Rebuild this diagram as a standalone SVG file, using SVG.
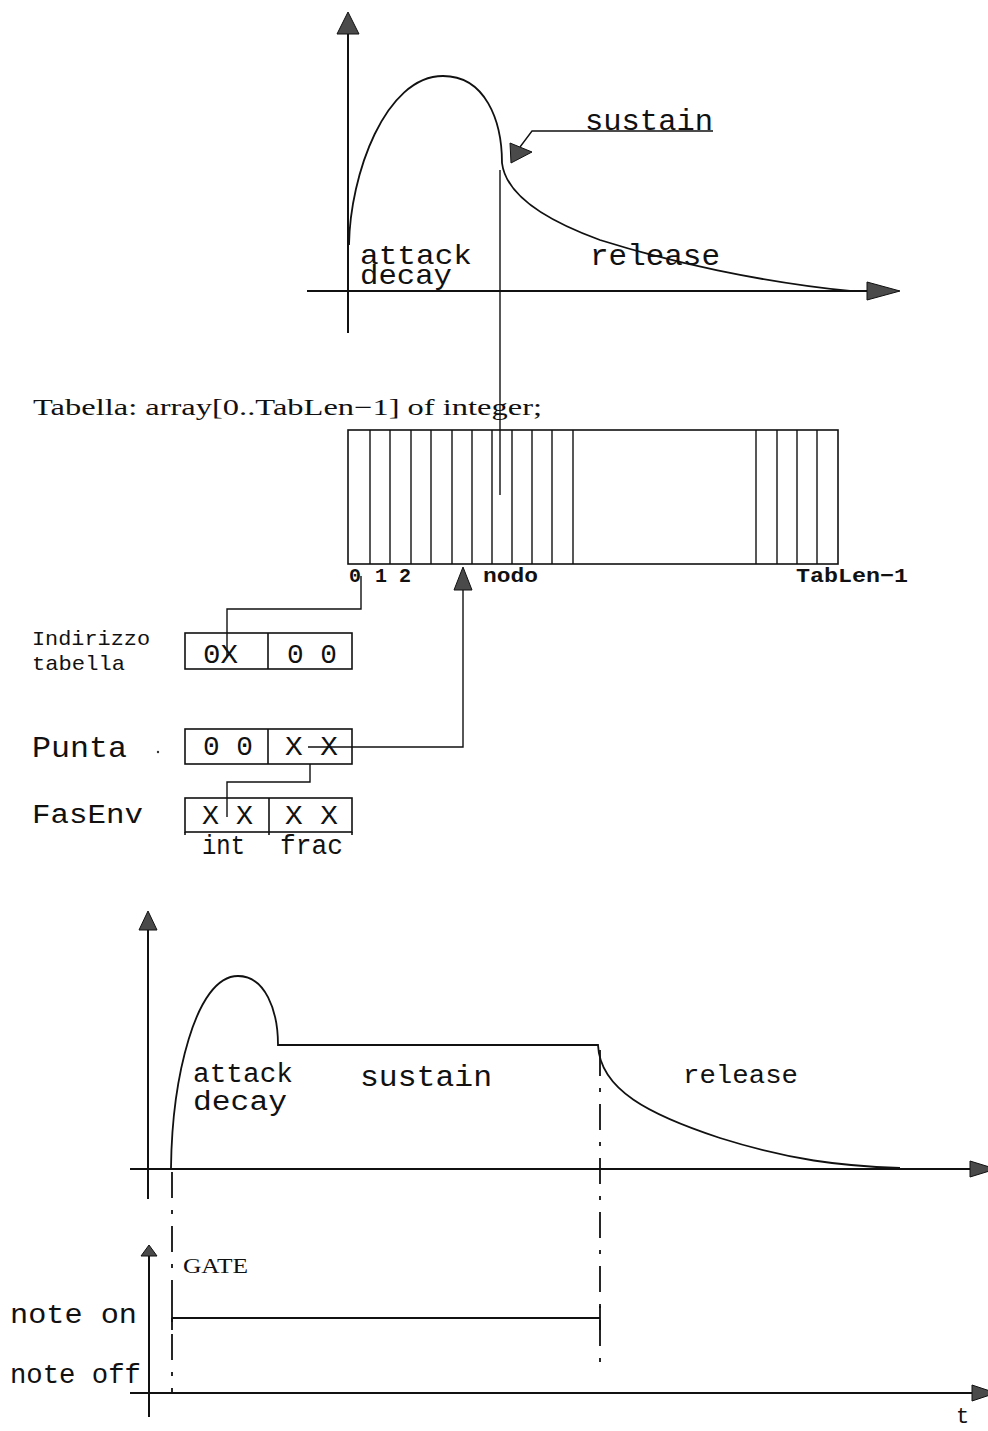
<svg xmlns="http://www.w3.org/2000/svg" width="988" height="1431" viewBox="0 0 988 1431">
<style>
  .ln{stroke:#111;stroke-width:1.8;fill:none}
  .thin{stroke:#111;stroke-width:1.4;fill:none}
  .ax{stroke:#111;stroke-width:2;fill:none}
  .ah{fill:#4a4a4a;stroke:#111;stroke-width:1}
  .dash{stroke:#111;stroke-width:1.8;fill:none;stroke-dasharray:26 12 4 12}
  .box{stroke:#111;stroke-width:1.6;fill:none}
  .m{font-family:"Liberation Mono","DejaVu Sans Mono",monospace;fill:#111}
  .mb{font-family:"Liberation Mono","DejaVu Sans Mono",monospace;font-weight:bold;fill:#111;font-size:20px}
  .s{font-family:"Liberation Serif","DejaVu Serif",serif;fill:#111}
</style>
<rect width="988" height="1431" fill="#fff"/>

<g id="top-graph">
  <line class="ax" x1="348" y1="30" x2="348" y2="333"/>
  <polygon class="ah" points="348,12 337,34 359,34"/>
  <line class="ax" x1="307" y1="291" x2="870" y2="291"/>
  <polygon class="ah" points="900,291 867,282 867,300"/>
  <path class="ln" d="M349,245 C350,175 385,76 443,76 C485,76 502,120 502,163 C506,195 545,220 600,240 C670,262 760,282 850,291"/>
  <text class="m" x="360" y="264" font-size="28" textLength="112" lengthAdjust="spacingAndGlyphs">attack</text>
  <text class="m" x="360" y="284" font-size="28" textLength="92" lengthAdjust="spacingAndGlyphs">decay</text>
  <text class="m" x="590" y="265" font-size="29" textLength="130" lengthAdjust="spacingAndGlyphs">release</text>
</g>

<g id="sustain-label">
  <text class="m" x="585" y="130" font-size="29" textLength="128" lengthAdjust="spacingAndGlyphs">sustain</text>
  <polyline class="thin" points="713,131 532,131 520,147"/>
  <polygon class="ah" points="510,143 532,152 511,163"/>
</g>

<g id="table">
  <text class="s" x="33" y="415" font-size="23" textLength="509" lengthAdjust="spacingAndGlyphs">Tabella: array[0..TabLen−1] of integer;</text>
  <rect class="box" x="348" y="430" width="490" height="134"/>
  <g class="thin">
    <line x1="370" y1="430" x2="370" y2="564"/>
    <line x1="390" y1="430" x2="390" y2="564"/>
    <line x1="411" y1="430" x2="411" y2="564"/>
    <line x1="431" y1="430" x2="431" y2="564"/>
    <line x1="452" y1="430" x2="452" y2="564"/>
    <line x1="472" y1="430" x2="472" y2="564"/>
    <line x1="492" y1="430" x2="492" y2="564"/>
    <line x1="512" y1="430" x2="512" y2="564"/>
    <line x1="532" y1="430" x2="532" y2="564"/>
    <line x1="552" y1="430" x2="552" y2="564"/>
    <line x1="573" y1="430" x2="573" y2="564"/>
    <line x1="756" y1="430" x2="756" y2="564"/>
    <line x1="777" y1="430" x2="777" y2="564"/>
    <line x1="797" y1="430" x2="797" y2="564"/>
    <line x1="817" y1="430" x2="817" y2="564"/>
  </g>
  <text class="mb" x="355" y="582" text-anchor="middle">0</text>
  <text class="mb" x="381" y="582" text-anchor="middle">1</text>
  <text class="mb" x="405" y="582" text-anchor="middle">2</text>
  <text class="mb" x="483" y="582" textLength="55" lengthAdjust="spacingAndGlyphs">nodo</text>
  <text class="mb" x="796" y="582" textLength="112" lengthAdjust="spacingAndGlyphs">TabLen−1</text>
</g>

<g id="indirizzo">
  <text class="m" x="32" y="645" font-size="21" textLength="118" lengthAdjust="spacingAndGlyphs">Indirizzo</text>
  <text class="m" x="32" y="670" font-size="21" textLength="93" lengthAdjust="spacingAndGlyphs">tabella</text>
  <rect class="box" x="185" y="633" width="167" height="36"/>
  <line class="box" x1="268" y1="633" x2="268" y2="669"/>
  <text class="m" x="203" y="663" font-size="27" textLength="35" lengthAdjust="spacingAndGlyphs">0X</text>
  <text class="m" x="287" y="663" font-size="27" textLength="50" lengthAdjust="spacingAndGlyphs">0 0</text>
</g>

<g id="punta">
  <text class="m" x="32" y="757" font-size="29" textLength="95" lengthAdjust="spacingAndGlyphs">Punta</text>
  <circle cx="158" cy="752" r="1.2" fill="#333"/>
  <rect class="box" x="185" y="729" width="167" height="35"/>
  <line class="box" x1="268" y1="729" x2="268" y2="764"/>
  <text class="m" x="203" y="755" font-size="27" textLength="50" lengthAdjust="spacingAndGlyphs">0 0</text>
  <text class="m" x="285" y="755" font-size="27" textLength="53" lengthAdjust="spacingAndGlyphs">X X</text>
</g>

<g id="fasenv">
  <text class="m" x="32" y="823" font-size="27" textLength="111" lengthAdjust="spacingAndGlyphs">FasEnv</text>
  <rect class="box" x="185" y="798" width="167" height="34"/>
  <line class="box" x1="269" y1="798" x2="269" y2="835"/>
  <line class="box" x1="185" y1="832" x2="185" y2="835"/>
  <line class="box" x1="352" y1="832" x2="352" y2="835"/>
  <text class="m" x="202" y="824" font-size="27" textLength="51" lengthAdjust="spacingAndGlyphs">X X</text>
  <text class="m" x="285" y="824" font-size="27" textLength="53" lengthAdjust="spacingAndGlyphs">X X</text>
  <text class="m" x="202" y="854" font-size="27" textLength="43" lengthAdjust="spacingAndGlyphs">int</text>
  <text class="m" x="280" y="854" font-size="27" textLength="63" lengthAdjust="spacingAndGlyphs">frac</text>
</g>

<g id="connectors">
  <line class="thin" x1="500" y1="170" x2="500" y2="495"/>
  <polyline class="thin" points="361,576 361,609 227,609 227,657"/>
  <polyline class="thin" points="308,747 463,747 463,588"/>
  <polygon class="ah" points="463,567 454,590 472,590"/>
  <polyline class="thin" points="310,764 310,782 227,782 227,817"/>
</g>

<g id="bottom-graph">
  <line class="ax" x1="148" y1="925" x2="148" y2="1199"/>
  <polygon class="ah" points="148,911 139,930 157,930"/>
  <line class="ax" x1="130" y1="1169" x2="975" y2="1169"/>
  <polygon class="ah" points="996,1169 970,1161 970,1177"/>
  <path class="ln" d="M171,1168 C172,1080 195,976 238,976 C265,976 278,1010 278,1045 L598,1045 C600,1090 650,1115 720,1138 C790,1160 840,1166 900,1168"/>
  <text class="m" x="193" y="1082" font-size="27" textLength="100" lengthAdjust="spacingAndGlyphs">attack</text>
  <text class="m" x="193" y="1110" font-size="27" textLength="94" lengthAdjust="spacingAndGlyphs">decay</text>
  <text class="m" x="360" y="1086" font-size="29" textLength="132" lengthAdjust="spacingAndGlyphs">sustain</text>
  <text class="m" x="683" y="1083" font-size="26" textLength="115" lengthAdjust="spacingAndGlyphs">release</text>
</g>

<g id="markers">
  <line class="dash" x1="172" y1="1172" x2="172" y2="1392"/>
  <line class="dash" x1="600" y1="1050" x2="600" y2="1365"/>
</g>

<g id="gate">
  <line class="ax" x1="149" y1="1252" x2="149" y2="1417"/>
  <polygon class="ah" points="149,1245 141,1256 157,1256"/>
  <line class="ax" x1="130" y1="1393" x2="975" y2="1393"/>
  <polygon class="ah" points="996,1393 972,1385 972,1401"/>
  <text class="s" x="183" y="1273" font-size="22" textLength="65" lengthAdjust="spacingAndGlyphs">GATE</text>
  <line class="ln" x1="172" y1="1318" x2="600" y2="1318"/>
  <line class="ln" x1="172" y1="1306" x2="172" y2="1330"/>
  <line class="ln" x1="600" y1="1306" x2="600" y2="1330"/>
  <text class="m" x="10" y="1323" font-size="28" textLength="127" lengthAdjust="spacingAndGlyphs">note on</text>
  <text class="m" x="10" y="1383" font-size="27" textLength="131" lengthAdjust="spacingAndGlyphs">note off</text>
  <text class="m" x="956" y="1423" font-size="22">t</text>
</g>
</svg>
